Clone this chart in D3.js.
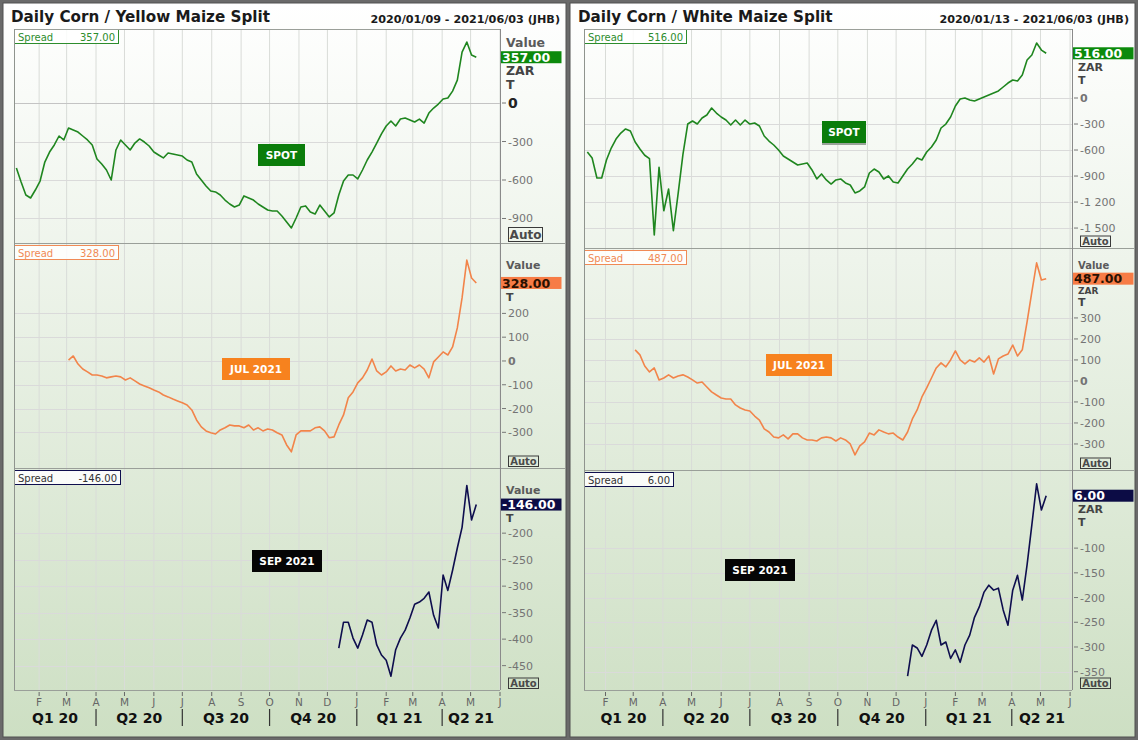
<!DOCTYPE html>
<html><head><meta charset="utf-8">
<script src="https://cdn.jsdelivr.net/npm/d3@7"></script>
<style>
body{margin:0;background:#6a6a6a;}
svg{display:block;}
text{font-family:"DejaVu Sans",Verdana,sans-serif;}
</style></head><body>
<svg id="c" width="1138" height="740"></svg>
<script>
// ---------------- DATA ----------------
const dates = ["2020-01-08","2020-01-13","2020-01-18","2020-01-23","2020-01-28","2020-02-02","2020-02-07","2020-02-12","2020-02-17","2020-02-22","2020-02-27","2020-03-03","2020-03-08","2020-03-13","2020-03-18","2020-03-23","2020-03-28","2020-04-02","2020-04-07","2020-04-12","2020-04-17","2020-04-22","2020-04-27","2020-05-02","2020-05-07","2020-05-12","2020-05-17","2020-05-22","2020-05-27","2020-06-01","2020-06-06","2020-06-11","2020-06-16","2020-06-21","2020-06-26","2020-07-01","2020-07-06","2020-07-11","2020-07-16","2020-07-21","2020-07-26","2020-07-31","2020-08-05","2020-08-10","2020-08-15","2020-08-20","2020-08-25","2020-08-30","2020-09-04","2020-09-09","2020-09-14","2020-09-19","2020-09-24","2020-09-29","2020-10-04","2020-10-09","2020-10-14","2020-10-19","2020-10-24","2020-10-29","2020-11-03","2020-11-08","2020-11-13","2020-11-18","2020-11-23","2020-11-28","2020-12-03","2020-12-08","2020-12-13","2020-12-18","2020-12-23","2020-12-28","2021-01-02","2021-01-07","2021-01-12","2021-01-17","2021-01-22","2021-01-27","2021-02-01","2021-02-06","2021-02-11","2021-02-16","2021-02-21","2021-02-26","2021-03-03","2021-03-08","2021-03-13","2021-03-18","2021-03-23","2021-03-28","2021-04-02","2021-04-07","2021-04-12","2021-04-17","2021-04-22","2021-04-27","2021-05-02","2021-05-07"];

const yellowSpotStart = "2020-01-08";
const yellowSpot = [-506,-616,-717,-740,-678,-608,-460,-382,-327,-257,
 -288,-195,-210,-226,-257,-288,-327,-436,-475,-522,
 -600,-366,-288,-327,-366,-312,-280,-304,-335,-382,
 -405,-428,-390,-397,-405,-413,-444,-460,-553,-600,
 -647,-686,-693,-717,-756,-787,-810,-795,-724,-740,
 -756,-787,-810,-834,-841,-841,-880,-927,-974,-896,
 -810,-802,-849,-865,-795,-841,-888,-857,-717,-608,
 -561,-561,-592,-522,-444,-382,-312,-241,-179,-140,
 -179,-125,-117,-132,-148,-125,-156,-78,-39,-8,
 31,39,93,179,397,475,374,357];

const yellowJulStart = "2020-03-03";
const yellowJul = [4,21,-13,-34,-46,-59,-59,-63,-71,-67,
 -63,-67,-80,-71,-84,-97,-105,-113,-122,-130,
 -143,-151,-160,-168,-176,-185,-206,-248,-277,-294,
 -302,-307,-290,-281,-269,-273,-273,-281,-269,-290,
 -281,-294,-286,-290,-302,-311,-353,-382,-311,-294,
 -294,-294,-281,-277,-294,-323,-319,-269,-227,-155,
 -130,-92,-71,-38,8,-42,-59,-46,-21,-42,
 -34,-38,-17,-29,-17,-34,-71,-4,17,38,
 25,59,139,265,424,349,328];

const yellowSepStart = "2020-12-13";
const yellowSep = [-417,-368,-368,-398,-417,-392,-364,-368,-411,-430,
 -440,-470,-420,-398,-383,-360,-334,-330,-323,-311,
 -355,-379,-279,-308,-270,-228,-189,-110,-175,-146];

const whiteSpotStart = "2020-01-13";
const whiteSpot = [-623,-692,-922,-922,-715,-577,-473,-404,-357,-380,
 -507,-588,-660,-700,-1580,-800,-1300,-1050,-1530,-1100,
 -650,-300,-265,-300,-231,-196,-115,-173,-219,-254,
 -311,-254,-311,-254,-300,-288,-323,-438,-496,-542,
 -600,-669,-703,-738,-773,-761,-749,-830,-934,-876,
 -945,-992,-945,-934,-980,-1003,-1095,-1072,-1026,-865,
 -819,-853,-934,-899,-969,-980,-899,-819,-761,-692,
 -715,-623,-565,-484,-346,-300,-219,-92,-12,0,
 -23,-35,-12,12,35,58,81,127,173,208,
 196,265,438,496,634,553,516];

const whiteJulStart = "2020-03-03";
const whiteJul = [148,124,71,43,62,5,14,29,14,24,
 29,19,5,-10,-5,-29,-52,-67,-81,-86,
 -86,-114,-129,-138,-143,-167,-186,-228,-243,-267,
 -271,-257,-276,-252,-252,-271,-281,-281,-286,-271,
 -267,-271,-286,-271,-281,-300,-352,-309,-290,-248,
 -257,-233,-243,-252,-248,-267,-281,-243,-181,-138,
 -76,-33,14,62,86,67,100,143,100,81,
 100,90,110,90,119,33,105,119,128,171,
 119,148,281,424,562,481,487];

const whiteSepStart = "2020-12-13";
const whiteSep = [-359,-296,-302,-319,-296,-266,-246,-296,-290,-323,
 -306,-331,-296,-276,-240,-219,-189,-175,-185,-181,
 -225,-256,-185,-155,-205,-134,-53,30,-23,6];

const yellowTicks = [[-900,-600,-300,0],[-300,-200,-100,0,100,200],[-450,-400,-350,-300,-250,-200]];
const whiteTicks  = [[-1500,-1200,-900,-600,-300,0],[-300,-200,-100,0,100,200,300],[-350,-300,-250,-200,-150,-100]];
const contractLabels = ["SPOT","JUL 2021","SEP 2021"];
const unitLabels = ["Value","ZAR","T"];
const quarterLabels = ["Q1 20","Q2 20","Q3 20","Q4 20","Q1 21","Q2 21"];
const quarterStarts = ["2020-01-01","2020-04-01","2020-07-01","2020-10-01","2021-01-01","2021-04-01","2021-07-01"];
const titles = ["Daily Corn / Yellow Maize Split","Daily Corn / White Maize Split"];
const periods = ["2020/01/09 - 2021/06/03 (JHB)","2020/01/13 - 2021/06/03 (JHB)"];

// ---------------- HELPERS ----------------
const parse = d3.timeParse("%Y-%m-%d");
function series(values, start){
  const i0 = dates.indexOf(start);
  return values.map((v,i)=>({date: parse(dates[i0+i]), value: v}));
}
function fmtTick(v){ return (v<0?"-":"") + d3.format(",")(Math.abs(v)).replace(/,/g," "); }
function fmtVal(v){ return (v<0?"-":"") + Math.abs(v).toFixed(2); }

const GREEN="#1f861f", ORANGE="#f2844a", NAVY="#0e0e4e";

// units: [labelIndex, baseline offset from sub top, font size]
const panels = [
 {x0:3, x1:566, L:14, R:500, xDomain:[new Date(2020,0,5,12), new Date(2021,5,1)],
  title:titles[0], period:periods[0], ticks:yellowTicks,
  subs:[
   {top:29, bottom:243, yDomain:[-1091,577], data:series(yellowSpot,yellowSpotStart), color:GREEN,
    box:"#0c8a0c", boxText:"#fff", legText:"#2d8d2d", legW:104, lab:[258,144,47,22], labBg:"#0b7d0b", big:true,
    units:[[0,18,12.5],[1,46,12.5],[2,60,12.5]]},
   {top:243, bottom:468, yDomain:[-450,496], data:series(yellowJul,yellowJulStart), color:ORANGE,
    box:"#f77c46", boxText:"#2a1000", legText:"#f08a55", legW:104, lab:[222,358,68,22], labBg:"#f7821e",
    units:[[0,26,11],[2,58,11]]},
   {top:468, bottom:690, yDomain:[-496,-77], data:series(yellowSep,yellowSepStart), color:NAVY,
    box:"#0c0c45", boxText:"#fff", legText:"#333", legW:106, lab:[252,550,70,22], labBg:"#050505",
    units:[[0,26,11],[2,54,11]]}
  ]},
 {x0:570, x1:1135, L:584, R:1072, xDomain:[new Date(2020,0,9,12), new Date(2021,5,3)],
  title:titles[1], period:periods[1], ticks:whiteTicks,
  subs:[
   {top:29, bottom:248, yDomain:[-1730,796], data:series(whiteSpot,whiteSpotStart), color:GREEN,
    box:"#0c8a0c", boxText:"#fff", legText:"#2d8d2d", legW:102, lab:[822,121,44,22], labBg:"#0b7d0b", shadow:true,
    units:[[1,42,11],[2,55,11]]},
   {top:248, bottom:470, yDomain:[-424,633], data:series(whiteJul,whiteJulStart), color:ORANGE,
    box:"#f77c46", boxText:"#2a1000", legText:"#f08a55", legW:102, lab:[766,354,66,22], labBg:"#f7821e",
    units:[[0,21,10],[1,45.5,9],[2,58,11]]},
   {top:470, bottom:690, yDomain:[-387,58], data:series(whiteSep,whiteSepStart), color:NAVY,
    box:"#0c0c45", boxText:"#fff", legText:"#333", legW:89, lab:[725,559,70,22], labBg:"#050505",
    units:[[1,43,11],[2,56,11]]}
  ]}
];

// ---------------- DRAW ----------------
const svg = d3.select("#c");
const defs = svg.append("defs");
const grad = defs.append("linearGradient").attr("id","bg").attr("x1",0).attr("y1",0).attr("x2",0).attr("y2",1);
grad.append("stop").attr("offset","0%").attr("stop-color","#ffffff");
grad.append("stop").attr("offset","35%").attr("stop-color","#eef4eb");
grad.append("stop").attr("offset","100%").attr("stop-color","#cddfc3");

panels.forEach((p,pi)=>{
  const g = svg.append("g");
  g.append("rect").attr("x",p.x0).attr("y",3).attr("width",p.x1-p.x0).attr("height",734)
    .attr("fill","url(#bg)").attr("stroke","#505050").attr("stroke-width",1);
  g.append("text").attr("x",p.x0+8).attr("y",22).attr("font-size",15.2).attr("font-weight","bold")
    .attr("fill","#1a1a1a").text(p.title);
  g.append("text").attr("x",p.x1-6).attr("y",23).attr("text-anchor","end").attr("font-size",11.2)
    .attr("font-weight","bold").attr("fill","#1a1a1a").text(p.period);

  const x = d3.scaleTime().domain(p.xDomain).range([p.L,p.R]);
  const months = d3.timeMonth.range(new Date(2020,1,1), new Date(2021,5,2));

  // vertical grid
  g.selectAll(null).data(months).join("line")
    .attr("x1",d=>x(d)).attr("x2",d=>x(d)).attr("y1",29).attr("y2",690)
    .attr("stroke","#d9dcd8").attr("stroke-width",1);

  p.subs.forEach((s,si)=>{
    const y = d3.scaleLinear().domain(s.yDomain).range([s.bottom,s.top]);
    const ticks = p.ticks[si];
    // horizontal grid
    g.selectAll(null).data(ticks).join("line")
      .attr("x1",p.L).attr("x2",p.R).attr("y1",d=>Math.round(y(d))+0.5).attr("y2",d=>Math.round(y(d))+0.5)
      .attr("stroke",d=>d===0 && s.big ? "#c4c4c4" : "#dadada");
    // clip
    const cid = "clip"+pi+"_"+si;
    defs.append("clipPath").attr("id",cid).append("rect")
      .attr("x",p.L).attr("y",s.top).attr("width",p.R-p.L).attr("height",s.bottom-s.top);
    const line = d3.line().x(d=>x(d.date)).y(d=>y(d.value));
    g.append("path").datum(s.data).attr("d",line).attr("fill","none").attr("stroke",s.color)
      .attr("stroke-width",1.6).attr("stroke-linejoin","round").attr("clip-path","url(#"+cid+")");

    // separator line at bottom of sub
    g.append("line").attr("x1",p.L).attr("x2", si<2 ? p.x1-1 : p.R)
      .attr("y1",s.bottom+0.5).attr("y2",s.bottom+0.5).attr("stroke","#9a9f99");

    // legend box
    const ly = s.top + (si===0?0.5:2.5);
    const last = s.data[s.data.length-1].value;
    g.append("rect").attr("x",p.L+0.5).attr("y",ly).attr("width",s.legW).attr("height",14)
      .attr("fill","#ffffff").attr("fill-opacity",0.85).attr("stroke",s.legText==="#333"?NAVY:s.legText);
    g.append("text").attr("x",p.L+4).attr("y",ly+11).attr("font-size",10).attr("fill",s.legText).text("Spread");
    g.append("text").attr("x",p.L+s.legW-3).attr("y",ly+11).attr("text-anchor","end").attr("font-size",10)
      .attr("fill",s.legText).text(fmtVal(last));

    // contract label
    const [bx,by,bw,bh] = s.lab;
    if (s.shadow) g.append("rect").attr("x",bx).attr("y",by+bh).attr("width",bw).attr("height",2).attr("fill","#9aa39a");
    g.append("rect").attr("x",bx).attr("y",by).attr("width",bw).attr("height",bh).attr("fill",s.labBg);
    g.append("text").attr("x",bx+bw/2).attr("y",by+bh/2+4).attr("text-anchor","middle")
      .attr("font-size",10.5).attr("font-weight","bold").attr("fill","#fff").text(contractLabels[si]);

    // y tick labels
    ticks.forEach(t=>{
      const ty = y(t);
      g.append("line").attr("x1",p.R+2).attr("x2",p.R+6).attr("y1",ty).attr("y2",ty).attr("stroke","#777");
      const big0 = (t===0 && s.big);
      g.append("text").attr("x",p.R+8).attr("y",ty+(big0?5:4)).attr("font-size",big0?14:11)
        .attr("font-weight",t===0?"bold":"normal").attr("fill",big0?"#222":"#747474").text(fmtTick(t));
    });

    // unit labels (those visible around the value tag)
    s.units.forEach(([ui,off,fs])=>{
      g.append("text").attr("x",p.R+6).attr("y",s.top+off).attr("font-size",fs)
        .attr("font-weight","bold").attr("fill",ui===0?"#5a5a5a":"#444").text(unitLabels[ui]);
    });

    // value box
    const vy = y(last);
    g.append("rect").attr("x",p.R+0.5).attr("y",vy-6).attr("width",61).attr("height",12).attr("fill",s.box);
    g.append("text").attr("x",p.R+2).attr("y",vy+4.6).attr("font-size",12.5).attr("font-weight","bold")
      .attr("fill",s.boxText).text(fmtVal(last));

    // Auto box
    const aw = s.big?34:30, ah = s.big?14:10.5;
    g.append("rect").attr("x",p.R+8.5).attr("y",s.bottom-ah-1.5).attr("width",aw).attr("height",ah)
      .attr("fill","none").attr("stroke","#3a3a3a");
    g.append("text").attr("x",p.R+8.5+aw/2).attr("y",s.bottom-2.5-(s.big?2:0.5)).attr("text-anchor","middle")
      .attr("font-size",s.big?12:10).attr("font-weight","bold").attr("fill","#4a4a4a").text("Auto");
  });

  // frame lines
  g.append("line").attr("x1",p.L).attr("x2",p.R).attr("y1",29.5).attr("y2",29.5).attr("stroke","#9a9f99");
  g.append("line").attr("x1",p.L+0.5).attr("x2",p.L+0.5).attr("y1",29).attr("y2",690).attr("stroke","#8f948e");
  g.append("line").attr("x1",p.R+0.5).attr("x2",p.R+0.5).attr("y1",29).attr("y2",690).attr("stroke","#8a8a8a");

  // x axis month ticks
  g.selectAll(null).data(months).join("line")
    .attr("x1",d=>x(d)).attr("x2",d=>x(d)).attr("y1",692).attr("y2",696).attr("stroke","#666");
  g.selectAll(null).data(months).join("text")
    .attr("x",d=>x(d)).attr("y",706).attr("text-anchor","middle").attr("font-size",10.5).attr("fill","#666")
    .text(d=>d3.timeFormat("%b")(d)[0]);

  // quarters
  const qs = quarterStarts.map(parse);
  quarterLabels.forEach((q,i)=>{
    const a = Math.max(p.L, x(qs[i])), b = Math.min(p.R, x(qs[i+1]));
    g.append("text").attr("x",(a+b)/2).attr("y",723).attr("text-anchor","middle")
      .attr("font-size",14).attr("font-weight","bold").attr("fill","#111").text(q);
    if (i>0) g.append("line").attr("x1",x(qs[i])).attr("x2",x(qs[i]))
      .attr("y1",709).attr("y2",726).attr("stroke","#333").attr("stroke-width",1.2);
  });
});
</script>
</body></html>
